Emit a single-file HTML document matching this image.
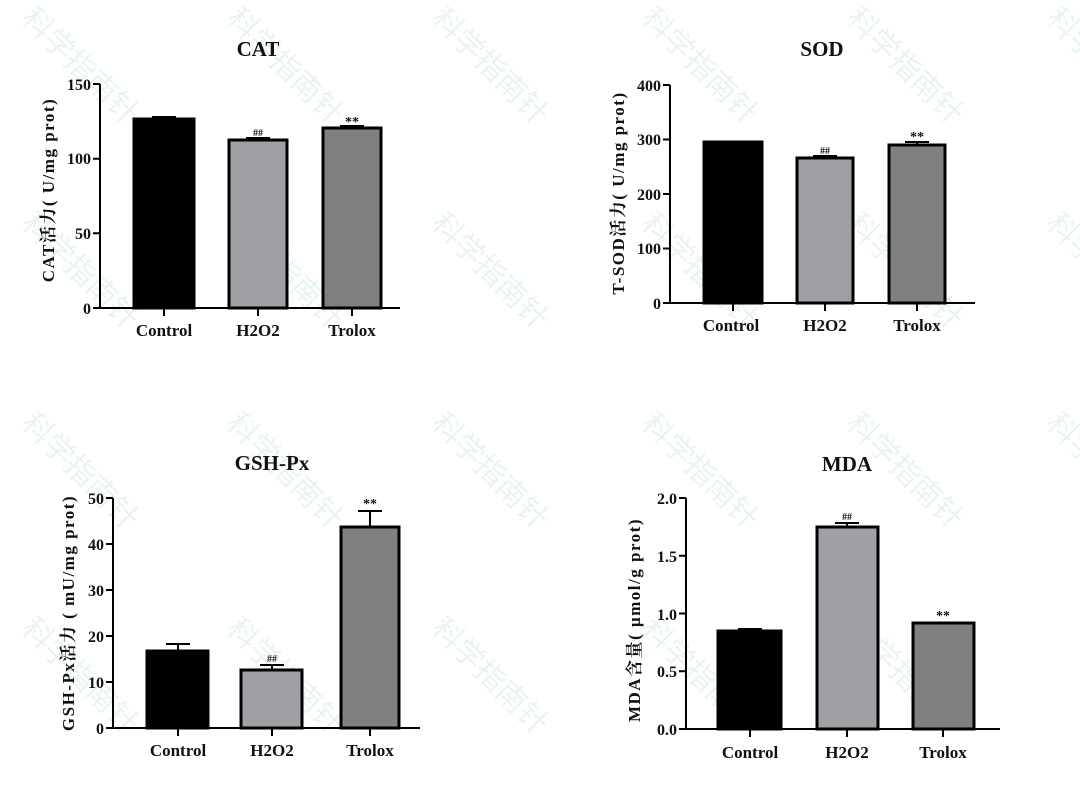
<!DOCTYPE html>
<html><head><meta charset="utf-8"><style>
html,body{margin:0;padding:0;background:#fff;}
svg{display:block;}
text{font-family:"Liberation Serif","Noto Serif CJK SC",serif;font-weight:bold;fill:#111;}
.t{font-size:21px;text-anchor:middle;}
.tk{font-size:16px;text-anchor:end;}
.xl{font-size:17px;text-anchor:middle;}
.yl{font-size:17px;text-anchor:middle;letter-spacing:1.5px;}
.sg{font-size:14px;text-anchor:middle;}
.wm{font-family:"Noto Sans CJK SC",sans-serif;font-size:30px;fill:#b5ddd0;opacity:.3;font-weight:normal;}
</style></head><body>
<svg width="1080" height="797" viewBox="0 0 1080 797" xmlns="http://www.w3.org/2000/svg">
<g>
<text class="wm" transform="translate(20,20) rotate(45)">科学指南针</text>
<text class="wm" transform="translate(225,20) rotate(45)">科学指南针</text>
<text class="wm" transform="translate(430,20) rotate(45)">科学指南针</text>
<text class="wm" transform="translate(640,20) rotate(45)">科学指南针</text>
<text class="wm" transform="translate(845,20) rotate(45)">科学指南针</text>
<text class="wm" transform="translate(1045,20) rotate(45)">科学指南针</text>
<text class="wm" transform="translate(20,225) rotate(45)">科学指南针</text>
<text class="wm" transform="translate(225,225) rotate(45)">科学指南针</text>
<text class="wm" transform="translate(430,225) rotate(45)">科学指南针</text>
<text class="wm" transform="translate(640,225) rotate(45)">科学指南针</text>
<text class="wm" transform="translate(845,225) rotate(45)">科学指南针</text>
<text class="wm" transform="translate(1045,225) rotate(45)">科学指南针</text>
<text class="wm" transform="translate(20,425) rotate(45)">科学指南针</text>
<text class="wm" transform="translate(225,425) rotate(45)">科学指南针</text>
<text class="wm" transform="translate(430,425) rotate(45)">科学指南针</text>
<text class="wm" transform="translate(640,425) rotate(45)">科学指南针</text>
<text class="wm" transform="translate(845,425) rotate(45)">科学指南针</text>
<text class="wm" transform="translate(1045,425) rotate(45)">科学指南针</text>
<text class="wm" transform="translate(20,630) rotate(45)">科学指南针</text>
<text class="wm" transform="translate(225,630) rotate(45)">科学指南针</text>
<text class="wm" transform="translate(430,630) rotate(45)">科学指南针</text>
<text class="wm" transform="translate(640,630) rotate(45)">科学指南针</text>
<text class="wm" transform="translate(845,630) rotate(45)">科学指南针</text>
</g>

<!-- CAT -->
<g stroke="#000" stroke-width="3">
<rect x="134" y="119" width="60" height="189" fill="#000"/>
<rect x="229" y="140" width="58" height="168" fill="#a0a0a4"/>
<rect x="323" y="128" width="58" height="180" fill="#808080"/>
</g>
<g stroke="#000" stroke-width="2" fill="none">
<path d="M100,84V308M93,84H100M93,158.7H100M93,233.3H100M93,308H400"/>
<path d="M164,308V316M258,308V316M352,308V316"/>
<path d="M164,119V117M152,117H176M258,140V138M246,138H270M352,128V126M340,126H364"/>
</g>
<text class="t" x="258" y="56">CAT</text>
<text class="tk" x="91" y="90">150</text><text class="tk" x="91" y="164">100</text><text class="tk" x="91" y="239">50</text><text class="tk" x="91" y="314">0</text>
<text class="xl" x="164" y="336">Control</text><text class="xl" x="258" y="336">H2O2</text><text class="xl" x="352" y="336">Trolox</text>
<text class="yl" transform="translate(54,190) rotate(-90)">CAT活力( U/mg prot)</text>
<text class="sg" x="258" y="136" style="font-size:10px">##</text><text class="sg" x="352" y="126">**</text>

<!-- SOD -->
<g stroke="#000" stroke-width="3">
<rect x="704" y="142" width="58" height="161" fill="#000"/>
<rect x="797" y="158" width="56" height="145" fill="#a0a0a4"/>
<rect x="889" y="145" width="56" height="158" fill="#808080"/>
</g>
<g stroke="#000" stroke-width="2" fill="none">
<path d="M670,85V303M663,85H670M663,139.5H670M663,194H670M663,248.5H670M663,303H975"/>
<path d="M733,303V311M825,303V311M917,303V311"/>
<path d="M825,158V156M813,156H837M917,145V142M905,142H929"/>
</g>
<text class="t" x="822" y="56">SOD</text>
<text class="tk" x="661" y="91">400</text><text class="tk" x="661" y="145">300</text><text class="tk" x="661" y="200">200</text><text class="tk" x="661" y="254">100</text><text class="tk" x="661" y="309">0</text>
<text class="xl" x="731" y="331">Control</text><text class="xl" x="825" y="331">H2O2</text><text class="xl" x="917" y="331">Trolox</text>
<text class="yl" transform="translate(624,193) rotate(-90)">T-SOD活力( U/mg prot)</text>
<text class="sg" x="825" y="154" style="font-size:10px">##</text><text class="sg" x="917" y="141">**</text>

<!-- GSH-Px -->
<g stroke="#000" stroke-width="3">
<rect x="147" y="651" width="61" height="77" fill="#000"/>
<rect x="241" y="670" width="61" height="58" fill="#a0a0a4"/>
<rect x="341" y="527" width="58" height="201" fill="#808080"/>
</g>
<g stroke="#000" stroke-width="2" fill="none">
<path d="M113,498V728M106,498H113M106,544H113M106,590H113M106,636H113M106,682H113M106,728H420"/>
<path d="M178,728V736M272,728V736M370,728V736"/>
<path d="M178,651V644M166,644H190M272,670V665M260,665H284M370,527V511M358,511H382"/>
</g>
<text class="t" x="272" y="470">GSH-Px</text>
<text class="tk" x="104" y="504">50</text><text class="tk" x="104" y="550">40</text><text class="tk" x="104" y="596">30</text><text class="tk" x="104" y="642">20</text><text class="tk" x="104" y="688">10</text><text class="tk" x="104" y="734">0</text>
<text class="xl" x="178" y="756">Control</text><text class="xl" x="272" y="756">H2O2</text><text class="xl" x="370" y="756">Trolox</text>
<text class="yl" transform="translate(74,613) rotate(-90)">GSH-Px活力 ( mU/mg prot)</text>
<text class="sg" x="272" y="662" style="font-size:10px">##</text><text class="sg" x="370" y="508">**</text>

<!-- MDA -->
<g stroke="#000" stroke-width="3">
<rect x="718" y="631" width="63" height="98" fill="#000"/>
<rect x="817" y="527" width="61" height="202" fill="#a0a0a4"/>
<rect x="913" y="623" width="61" height="106" fill="#808080"/>
</g>
<g stroke="#000" stroke-width="2" fill="none">
<path d="M686,498V729M679,498H686M679,555.75H686M679,613.5H686M679,671.25H686M679,729H1000"/>
<path d="M750,729V737M847,729V737M943,729V737"/>
<path d="M750,631V629M738,629H762M847,527V523M835,523H859"/>
</g>
<text class="t" x="847" y="471">MDA</text>
<text class="tk" x="677" y="504">2.0</text><text class="tk" x="677" y="562">1.5</text><text class="tk" x="677" y="620">1.0</text><text class="tk" x="677" y="677">0.5</text><text class="tk" x="677" y="735">0.0</text>
<text class="xl" x="750" y="758">Control</text><text class="xl" x="847" y="758">H2O2</text><text class="xl" x="943" y="758">Trolox</text>
<text class="yl" transform="translate(640,620) rotate(-90)">MDA含量( μmol/g prot)</text>
<text class="sg" x="847" y="520" style="font-size:10px">##</text><text class="sg" x="943" y="620">**</text>
</svg>
</body></html>
